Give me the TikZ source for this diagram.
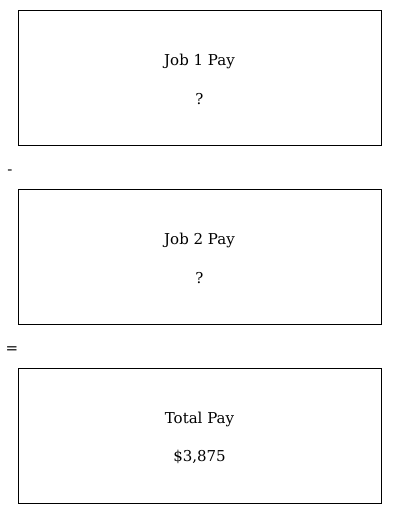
\documentclass[tikz,border=0pt]{standalone}
\usepackage{fontspec}
\setmainfont{DejaVu Serif}
\usetikzlibrary{positioning}

\begin{document}
\begin{tikzpicture}[x=1pt,y=-1pt,
 paybox/.style={draw,minimum width=363pt,minimum height=135pt,inner sep=0pt},
 lbl/.style={font=\fontsize{15}{17}\selectfont}]
\useasboundingbox (0,0) rectangle (400,514);
\node[paybox] (job1) at (199.5,77.5) {};
\node[paybox] (job2) at (199.5,256.5) {};
\node[paybox] (total) at (199.5,435.5) {};
\node[lbl] (job1t) at (199.5,61) {Job 1 Pay};
\node[lbl] (job1v) at (199.5,99) {?};
\node[lbl] (job2t) at (199.5,240) {Job 2 Pay};
\node[lbl] (job2v) at (199.5,278) {?};
\node[lbl] (totalt) at (199.5,419) {Total Pay};
\node[lbl] (totalv) at (199.5,457) {\$3,875};
\node[lbl] (minus) at (10,172) {-};
\node[lbl] (equals) at (12,350) {=};
\end{tikzpicture}
\end{document}
